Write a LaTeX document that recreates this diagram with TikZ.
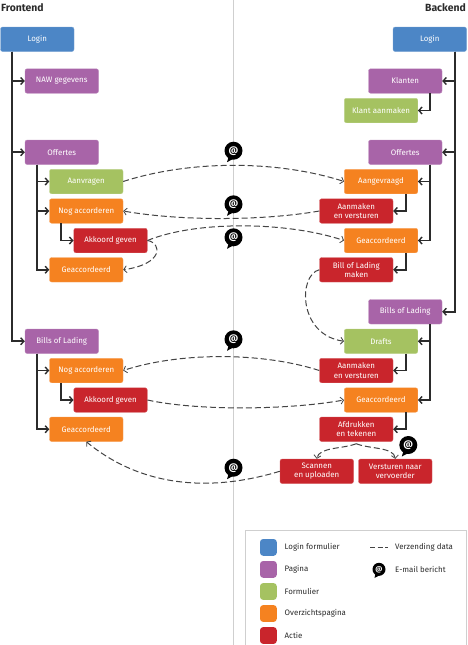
\documentclass[tikz,border=0pt]{standalone}
\usepackage{fontspec}
\setmainfont{Fira Sans}
\usetikzlibrary{arrows.meta,calc}
\definecolor{cblue}{HTML}{4C86C6}
\definecolor{cpurple}{HTML}{A864A8}
\definecolor{cgreen}{HTML}{A5C261}
\definecolor{corange}{HTML}{F58220}
\definecolor{cred}{HTML}{C9252C}
\definecolor{cline}{HTML}{2B2B2B}
\definecolor{cdash}{HTML}{444444}
\definecolor{crule}{HTML}{CFCFCF}
\tikzset{
  box/.style={rounded corners=2.2pt,minimum width=73.5pt,minimum height=24.5pt,inner sep=0pt,
     align=center,text=white,font=\fontsize{7.9}{9.4}\selectfont,draw=#1!75!white,line width=.4pt,fill=#1},
  tree/.style={draw=cline,line width=1.8pt,-{Straight Barb[length=3.2pt,width=7pt,line width=1.4pt]}},
  flow/.style={draw=cdash,line width=1pt,dash pattern=on 6pt off 3pt,
     -{Straight Barb[length=3pt,width=7pt,line width=.8pt]}},
  bubble/.style={circle,fill=black,text=white,inner sep=0pt,minimum size=#1,font=\bfseries\fontsize{9.5}{10}\selectfont},
  bubble/.default=18pt,
  swatch/.style={rounded corners=3pt,minimum size=16.7pt,inner sep=0pt,fill=#1},
  legtext/.style={anchor=west,inner sep=0pt,text=cline,font=\fontsize{7.9}{9.4}\selectfont},
  title/.style={inner sep=0pt,text=cline,font=\bfseries\fontsize{10.4}{12}\selectfont}
}
\newcommand{\msgicon}[3]{%
  \fill[black] (#2-4.5,#3+5) -- (#2-6.5,#3+11.5) -- (#2+2,#3+7) -- cycle;
  \node[bubble] (#1) at (#2,#3) {@};}
\begin{document}
\begin{tikzpicture}[x=1pt,y=-1pt]
\useasboundingbox (0,0) rectangle (467,645);
\fill[white] (0,0) rectangle (467,645);
\coordinate (midtop) at (233.5,0);
\coordinate (midbot) at (233.5,645);
\draw[crule,line width=1pt] (midtop) -- (midbot);

\node[title,anchor=west] (ftitle) at (1,8) {Frontend};
\node[title,anchor=east] (btitle) at (466,8) {Backend};

% Frontend
\node[box=cblue] (flogin) at (37.25,39.25) {Login};
\node[box=cpurple] (fnaw) at (61.75,81) {NAW gegevens};
\node[box=cpurple] (foff) at (61.75,152.25) {Offertes};
\node[box=cgreen] (faanv) at (86.25,181.5) {Aanvragen};
\node[box=corange] (fnog) at (86.25,211) {Nog accorderen};
\node[box=cred] (fakk) at (110.5,240.5) {Akkoord geven};
\node[box=corange] (fgea) at (86.25,269.75) {Geaccordeerd};
\node[box=cpurple] (fbill) at (61.75,341.25) {Bills of Lading};
\node[box=corange] (fnog2) at (86.25,370.5) {Nog accorderen};
\node[box=cred] (fakk2) at (110.5,400) {Akkoord geven};
\node[box=corange] (fgea2) at (86.25,429.25) {Geaccordeerd};

% Backend
\node[box=cblue] (blogin) at (429.75,39.25) {Login};
\node[box=cpurple] (bkla) at (405.25,81) {Klanten};
\node[box=cgreen] (bkaan) at (381,110.5) {Klant aanmaken};
\node[box=cpurple] (boff) at (405.25,152.25) {Offertes};
\node[box=corange] (baang) at (381,181.5) {Aangevraagd};
\node[box=cred] (baanm) at (356.25,211) {Aanmaken\\en versturen};
\node[box=corange] (bgea) at (381,240.5) {Geaccordeerd};
\node[box=cred] (bblm) at (356.25,269.75) {Bill of Lading\\maken};
\node[box=cpurple] (bbill) at (405.25,311.75) {Bills of Lading};
\node[box=cgreen] (bdra) at (381,341.25) {Drafts};
\node[box=cred] (baanm2) at (356.25,370.5) {Aanmaken\\en versturen};
\node[box=corange] (bgea2) at (381,400) {Geaccordeerd};
\node[box=cred] (bafd) at (356.25,429.25) {Afdrukken\\en tekenen};
\node[box=cred] (bsca) at (316.75,471.25) {Scannen\\en uploaden};
\node[box=cred] (bver) at (395.25,471.25) {Versturen naar\\vervoerder};

% Frontend tree
\draw[tree] ($(flogin.south west)+(12,0)$) |- (fnaw.west);
\draw[tree] ($(flogin.south west)+(12,0)$) |- (foff.west);
\draw[tree] ($(flogin.south west)+(12,0)$) |- (fbill.west);
\draw[tree] ($(foff.south west)+(12,0)$) |- (faanv.west);
\draw[tree] ($(foff.south west)+(12,0)$) |- (fnog.west);
\draw[tree] ($(foff.south west)+(12,0)$) |- (fgea.west);
\draw[tree] ($(fnog.south west)+(12,0)$) |- (fakk.west);
\draw[tree] ($(fbill.south west)+(12,0)$) |- (fnog2.west);
\draw[tree] ($(fbill.south west)+(12,0)$) |- (fgea2.west);
\draw[tree] ($(fnog2.south west)+(12,0)$) |- (fakk2.west);

% Backend tree
\draw[tree] ($(blogin.south east)+(-12,0)$) |- (bkla.east);
\draw[tree] ($(blogin.south east)+(-12,0)$) |- (boff.east);
\draw[tree] ($(blogin.south east)+(-12,0)$) |- (bbill.east);
\draw[tree] ($(bkla.south east)+(-12,0)$) |- (bkaan.east);
\draw[tree] ($(boff.south east)+(-12,0)$) |- (baang.east);
\draw[tree] ($(boff.south east)+(-12,0)$) |- (bgea.east);
\draw[tree] ($(baang.south east)+(-12,0)$) |- (baanm.east);
\draw[tree] ($(bgea.south east)+(-12,0)$) |- (bblm.east);
\draw[tree] ($(bbill.south east)+(-12,0)$) |- (bdra.east);
\draw[tree] ($(bbill.south east)+(-12,0)$) |- (bgea2.east);
\draw[tree] ($(bdra.south east)+(-12,0)$) |- (baanm2.east);
\draw[tree] ($(bgea2.south east)+(-12,0)$) |- (bafd.east);

% Data flows
\draw[flow] (faanv.east) .. controls (190,160) and (277,160) .. (baang.west);
\draw[flow] (baanm.west) .. controls (262,221) and (180,221) .. (fnog.east);
\draw[flow] (fakk.east) .. controls (195,221) and (285,221) .. (bgea.west);
\draw[flow] (fakk.east) .. controls (162,243) and (164,264) .. (fgea.east);
\draw[flow] (bblm.west) .. controls (298,275) and (298,335) .. (bdra.west);
\draw[flow] (baanm2.west) .. controls (262,352) and (180,352) .. (fnog2.east);
\draw[flow] (fakk2.east) .. controls (195,410.5) and (285,410.5) .. (bgea2.west);
\draw[flow] (bsca.west) .. controls (225,488) and (150,494) .. (fgea2.south);
\coordinate (split) at ($(bafd.south)+(0,2)$);
\draw[flow] (split) .. controls (343,449) and (319,447) .. (bsca.north);
\draw[flow] (split) .. controls (369,449) and (394,447) .. (bver.north);

% E-mail icons
\msgicon{m1}{233.5}{150.7}
\msgicon{m2}{233.5}{204.3}
\msgicon{m3}{233.5}{237.3}
\msgicon{m4}{233.5}{339.3}
\msgicon{m5}{233.5}{467.7}
\msgicon{m6}{408.3}{445}

% Legend
\draw[crule,line width=1pt] (245.8,645) -- (245.8,530.7) -- (466.6,530.7) -- (466.6,645);
\node[swatch=cblue] (s1) at (268.4,547.4) {};
\node[swatch=cpurple] (s2) at (268.4,569.4) {};
\node[swatch=cgreen] (s3) at (268.4,591.5) {};
\node[swatch=corange] (s4) at (268.4,613.5) {};
\node[swatch=cred] (s5) at (268.4,635.5) {};
\node[legtext] (l1) at (284.5,547.4) {Login formulier};
\node[legtext] (l2) at (284.5,569.4) {Pagina};
\node[legtext] (l3) at (284.5,591.5) {Formulier};
\node[legtext] (l4) at (284.5,613.5) {Overzichtspagina};
\node[legtext] (l5) at (284.5,635.5) {Actie};
\node[legtext] (l6) at (395,547.4) {Verzending data};
\node[legtext] (l7) at (395,569.4) {E-mail bericht};
\coordinate (da) at (370,547.4);
\coordinate (db) at (388,547.4);
\draw[cdash,line width=1pt,dash pattern=on 5pt off 2.5pt] (da) -- (db);
\fill[black] (375.5,573) -- (374.5,578) -- (381,574.5) -- cycle;
\node[bubble=13pt,font=\bfseries\fontsize{7}{8}\selectfont] (lm) at (379,569.3) {@};
\end{tikzpicture}
\end{document}
